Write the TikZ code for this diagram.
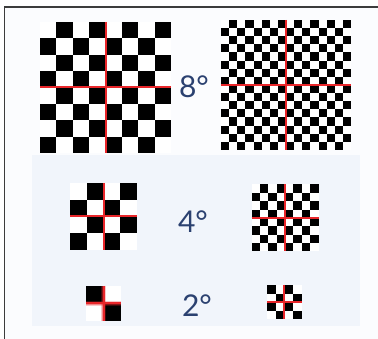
\documentclass[tikz,border=0pt]{standalone}
\usepackage{fontspec}
\setmainfont{Lato}
\definecolor{framegray}{HTML}{3C3C3C}
\definecolor{bgtint}{HTML}{FBFCFE}
\definecolor{paneltint}{HTML}{F1F5FB}
\definecolor{gridred}{HTML}{E8262A}
\definecolor{labelblue}{HTML}{2B4170}
\tikzset{
  frameline/.style={draw=framegray, line width=1.5pt},
  redline/.style={draw=gridred, line width=2pt},
  deglabel/.style={text=labelblue, font=\fontsize{30}{32}\selectfont, inner sep=0pt, anchor=center},
}
% #1 x0, #2 y0, #3 size, #4 cells per side, #5 parity (0: top-left white, 1: top-left black)
\newcommand{\chkboard}[5]{%
  \fill[white] (#1,#2) rectangle ++(#3,#3);
  \foreach \rowi in {1,...,#4}{
    \foreach \coli in {1,...,#4}{
      \ifodd\numexpr\rowi+\coli+#5\relax
        \fill[black] ({#1+(\coli-1)*#3/#4},{#2+(\rowi-1)*#3/#4}) rectangle ({#1+\coli*#3/#4},{#2+\rowi*#3/#4});
      \fi
    }
  }
}
\newcommand{\chkcross}[4]{% x0,y0,size, extra style
  \draw[redline,#4] ({#1+#3/2},#2) -- ++(0,#3);
  \draw[redline,#4] (#1,{#2+#3/2}) -- ++(#3,0);
}
\begin{document}
\begin{tikzpicture}[x=1pt,y=-1pt]
\useasboundingbox (0,0) rectangle (378,339);
\fill[white] (0,0) rectangle (378,339);
\fill[bgtint] (4.5,7) rectangle (378,339);
\fill[paneltint] (32,155) rectangle (360,326);
\draw[frameline] (378,7) -- (4.5,7) -- (4.5,339);

% 8 degrees
\chkboard{40}{22}{131}{8}{0}
\chkcross{40}{22}{131}{}
\chkboard{221}{20}{130}{16}{0}
\chkcross{221}{20}{130}{}
% 4 degrees
\chkboard{70}{183}{67}{4}{0}
\chkcross{70}{183}{67}{}
\chkboard{251.5}{184.5}{67}{8}{0}
\chkcross{251.5}{184.5}{67}{}
% 2 degrees
\chkboard{86}{286}{35}{2}{1}
\chkcross{86}{286}{35}{line width=5pt, draw opacity=0.25}
\chkcross{86}{286}{35}{line width=3.5pt, draw opacity=0.4}
\chkcross{86}{286}{35}{line width=2pt}
\chkboard{267}{285}{34.5}{4}{1}
\chkcross{267}{285}{34.5}{}

\node[deglabel] (d8) at (194,87) {8°};
\node[deglabel] (d4) at (193,222) {4°};
\node[deglabel] (d2) at (197,306) {2°};
\end{tikzpicture}
\end{document}
